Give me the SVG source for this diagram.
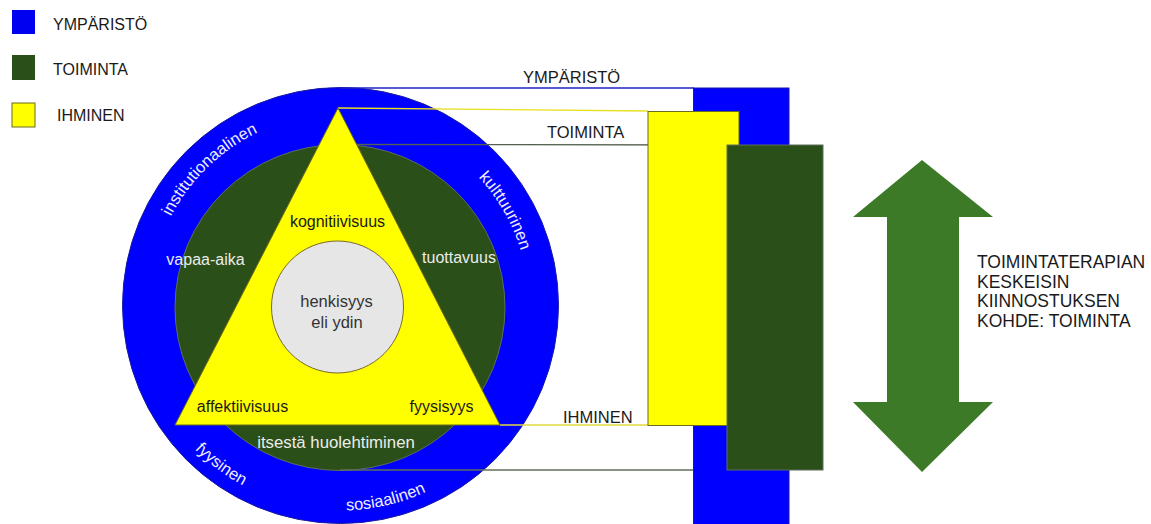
<svg xmlns="http://www.w3.org/2000/svg" width="1151" height="524" viewBox="0 0 1151 524" font-size="16">
<style>
text{font-family:"Liberation Sans",Arial,sans-serif}
.dark{fill:#1a1a1a}
.lite{fill:#ececec}
.ring{fill:#eeeeff}
.mid{text-anchor:middle}
</style>
<defs>
<path id="pInst" d="M153.0,301.6 A192,192 0 0 1 348.4,113.0"/>
<path id="pKult" d="M393.7,123.4 A188,188 0 0 1 526.6,353.7"/>
<path id="pFyys" d="M142.0,333.5 A205,205 0 0 0 373.5,508.0"/>
<path id="pSos" d="M236.4,478.8 A205,205 0 0 0 518.8,413.6"/>
</defs>
<rect width="1151" height="524" fill="#ffffff"/>
<g id="legend">
<rect x="12" y="10" width="23" height="24" fill="#0000f0"/>
<text x="53" y="30" class="dark">YMPÄRISTÖ</text>
<rect x="12" y="55" width="23" height="25" fill="#2b4f18"/>
<text x="53" y="75" class="dark">TOIMINTA</text>
<rect x="12" y="103" width="23" height="24" fill="#ffff00" stroke="#6b6b20" stroke-width="1"/>
<text x="57" y="121" class="dark">IHMINEN</text>
</g>
<g id="ymparisto-ring">
<circle cx="340.5" cy="305.5" r="218" fill="#0000ff" stroke="#1a1aa0" stroke-width="1"/>
<g transform="translate(-4,0.5)">
<text class="ring" font-size="16.5"><textPath href="#pInst" startOffset="50%" text-anchor="middle">institutionaalinen</textPath></text>
<text class="ring" font-size="16.5"><textPath href="#pKult" startOffset="50%" text-anchor="middle">kulttuurinen</textPath></text>
<text class="ring" font-size="16.5"><textPath href="#pFyys" startOffset="50%" text-anchor="middle">fyysinen</textPath></text>
<text class="ring" font-size="16.5"><textPath href="#pSos" startOffset="50%" text-anchor="middle">sosiaalinen</textPath></text>
</g>
</g>
<g id="toiminta-ring">
<ellipse cx="340" cy="307.5" rx="165" ry="163" fill="#2b4f18" stroke="#5f6f5a" stroke-width="1"/>
<text x="205.5" y="265" class="lite mid">vapaa-aika</text>
<text x="459" y="263" class="lite mid">tuottavuus</text>
<text x="336" y="448" class="lite mid" font-size="16.8">itsestä huolehtiminen</text>
</g>
<g id="connectors" fill="none" stroke-width="1.3">
<line x1="340" y1="88" x2="694" y2="88" stroke="#2020c0"/>
<line x1="340" y1="144.5" x2="727" y2="145" stroke="#55604f"/>
<line x1="338" y1="108" x2="648" y2="111" stroke="#e8e020"/>
<line x1="500" y1="425" x2="648" y2="425" stroke="#e0d840"/>
<line x1="340" y1="470" x2="727" y2="470" stroke="#5f6f5a"/>
</g>
<g id="ihminen-triangle">
<polygon points="338,108 500,425 175,425" fill="#ffff00" stroke="#6b6b20" stroke-width="1"/>
<text x="337.5" y="227" class="dark mid">kognitiivisuus</text>
<text x="242.5" y="412" class="dark mid">affektiivisuus</text>
<text x="441.5" y="412" class="dark mid">fyysisyys</text>
</g>
<g id="ydin">
<circle cx="337.5" cy="307" r="66" fill="#e6e6e6" stroke="#7a6a2a" stroke-width="1"/>
<text x="336.5" y="307" class="mid" fill="#333333" font-size="16.5">henkisyys</text>
<text x="337" y="328" class="mid" fill="#333333" font-size="16.5">eli ydin</text>
</g>
<g id="ymparisto-bar">
<rect x="693.5" y="88" width="95.5" height="440" fill="#0000ff" stroke="#1a1aa0" stroke-width="1"/>
<text x="523" y="83" class="dark" font-size="16.5">YMPÄRISTÖ</text>
</g>
<g id="ihminen-bar">
<rect x="648" y="111.5" width="91" height="314" fill="#ffff00" stroke="#6b6b20" stroke-width="1"/>
<text x="563" y="423" class="dark" font-size="16.5">IHMINEN</text>
</g>
<g id="toiminta-bar">
<rect x="727" y="145" width="96" height="325" fill="#2b4f18" stroke="#5f6f5a" stroke-width="1"/>
<text x="547" y="138" class="dark" font-size="16.5">TOIMINTA</text>
</g>
<g id="arrow">
<polygon points="922,160 993,217 959,217 959,402 993,402 922,472 853,402 887,402 887,217 853,217" fill="#3d7a27"/>
</g>
<g id="kohde" font-size="17.5">
<text x="977" y="268" class="dark">TOIMINTATERAPIAN</text>
<text x="977" y="288" class="dark">KESKEISIN</text>
<text x="977" y="307" class="dark">KIINNOSTUKSEN</text>
<text x="977" y="327" class="dark">KOHDE: TOIMINTA</text>
</g>
</svg>
